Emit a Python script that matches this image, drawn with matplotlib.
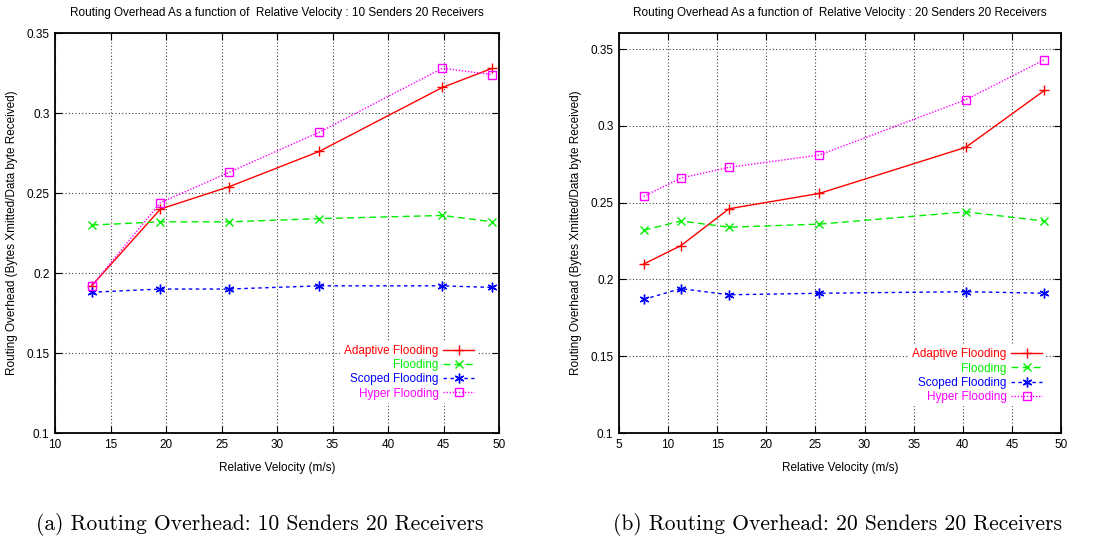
import matplotlib
matplotlib.use("Agg")
import matplotlib.pyplot as plt

# ---- data: panel (a) 10 senders ----
vel_a = [13.3, 19.5, 25.7, 33.8, 44.9, 49.4]
adaptive_a = [0.192, 0.240, 0.254, 0.276, 0.316, 0.328]
flooding_a = [0.230, 0.232, 0.232, 0.234, 0.236, 0.232]
scoped_a = [0.188, 0.190, 0.190, 0.192, 0.192, 0.191]
hyper_a = [0.192, 0.244, 0.263, 0.288, 0.328, 0.324]

# ---- data: panel (b) 20 senders ----
vel_b = [7.5, 11.3, 16.2, 25.4, 40.3, 48.3]
adaptive_b = [0.210, 0.222, 0.246, 0.256, 0.286, 0.323]
flooding_b = [0.232, 0.238, 0.234, 0.236, 0.244, 0.238]
scoped_b = [0.187, 0.194, 0.190, 0.191, 0.192, 0.191]
hyper_b = [0.254, 0.266, 0.273, 0.281, 0.317, 0.343]

series_names = ["Adaptive Flooding", "Flooding", "Scoped Flooding", "Hyper Flooding"]
titles = ["Routing Overhead As a function of  Relative Velocity : 10 Senders 20 Receivers",
          "Routing Overhead As a function of  Relative Velocity : 20 Senders 20 Receivers"]
captions = ["(a) Routing Overhead: 10 Senders 20 Receivers",
            "(b) Routing Overhead: 20 Senders 20 Receivers"]
xticks_a = [10, 15, 20, 25, 30, 35, 40, 45, 50]
xticks_b = [5, 10, 15, 20, 25, 30, 35, 40, 45, 50]
yticks_a = [0.1, 0.15, 0.2, 0.25, 0.3, 0.35]
yticks_b = [0.1, 0.15, 0.2, 0.25, 0.3, 0.35]

styles = [
    dict(color="#ff0000", linestyle="-", marker="+", markersize=7, markeredgewidth=1.0),
    dict(color="#00ee00", linestyle=(0, (5, 3)), marker="x", markersize=6, markeredgewidth=1.0),
    dict(color="#0000ff", linestyle=(0, (2.5, 2.5)), marker=(6, 2, 0), markersize=7, markeredgewidth=1.0),
    dict(color="#ff00ff", linestyle=(0, (1, 1.2)), marker="s", markersize=6, markeredgewidth=1.0,
         fillstyle="none"),
]

plt.rcParams["font.family"] = ["Liberation Sans", "DejaVu Sans"]

fig = plt.figure(figsize=(10.96, 5.40), dpi=100)
ax_a = fig.add_axes([0.0502, 0.1981, 0.4051, 0.7407])
ax_b = fig.add_axes([0.5648, 0.1981, 0.4033, 0.7407])

panels = [
    (ax_a, vel_a, [adaptive_a, flooding_a, scoped_a, hyper_a], (10, 50), (0.1, 0.35), xticks_a, yticks_a,
     (0.965, 0.06)),
    (ax_b, vel_b, [adaptive_b, flooding_b, scoped_b, hyper_b], (5, 50), (0.1, 0.3604), xticks_b, yticks_b,
     (0.978, 0.052)),
]

for i, (ax, xs, ys_list, xl, yl, xt, yt, anchor) in enumerate(panels):
    for name, ys, st in zip(series_names, ys_list, styles):
        ax.plot(xs, ys, label=name, linewidth=1.0, **st)
    ax.set_xlim(*xl)
    ax.set_ylim(*yl)
    ax.set_xticks(xt)
    ax.set_yticks(yt)
    ax.set_xticklabels([str(v) for v in xt])
    ax.set_yticklabels([("%g" % v) for v in yt])
    ax.grid(True, color="#444444", linestyle=(0, (1, 2)), linewidth=0.8)
    ax.tick_params(direction="in", top=True, right=True, labelsize=8.5, length=5, pad=4)
    for sp in ax.spines.values():
        sp.set_linewidth(1.3)
    ax.set_xlabel("Relative Velocity (m/s)", fontsize=8.5, labelpad=8)
    ax.set_ylabel("Routing Overhead (Bytes Xmitted/Data byte Received)", fontsize=8.5, labelpad=6)
    ax.set_title(titles[i], fontsize=8.5, pad=12)
    leg = ax.legend(loc="lower right", bbox_to_anchor=anchor, markerfirst=False,
                    labelcolor="linecolor", fontsize=8.5, frameon=True, framealpha=1.0,
                    facecolor="white", edgecolor="none", fancybox=False,
                    handlelength=2.6, handletextpad=0.4, labelspacing=0.18, borderpad=0.3)

fig.text(0.2372, 0.029, captions[0], ha="center", va="center", fontsize=15.5, family="cmr10")
fig.text(0.7642, 0.029, captions[1], ha="center", va="center", fontsize=15.5, family="cmr10")

fig.savefig("out.png", dpi=100)
